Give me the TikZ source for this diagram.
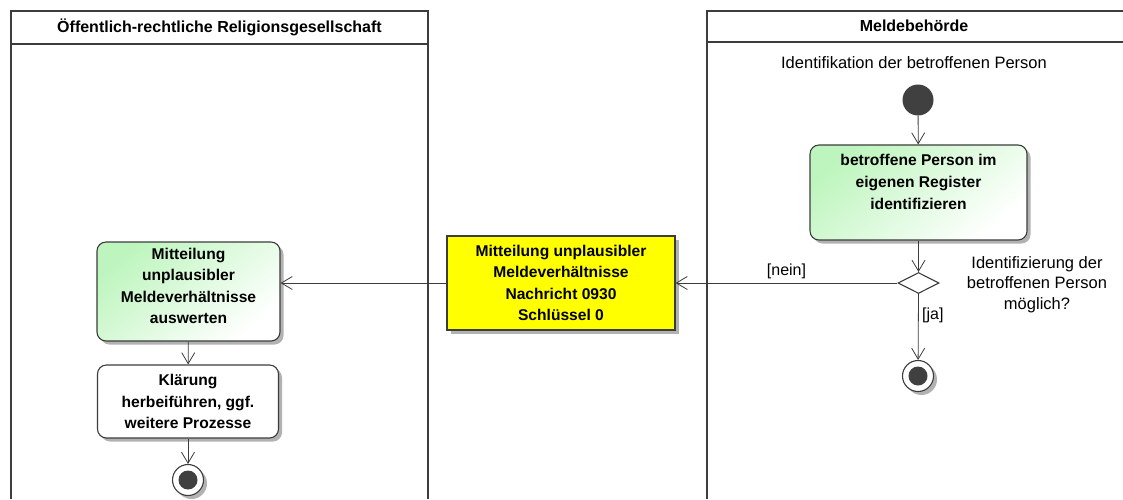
\documentclass[tikz,border=0pt]{standalone}
\usepackage{fontspec}
\setmainfont{Liberation Sans}
\usetikzlibrary{arrows.meta,shapes.geometric,shadows}
\definecolor{lanegray}{RGB}{60,60,60}
\definecolor{dotgray}{RGB}{64,64,64}
\definecolor{actgreen}{RGB}{190,245,190}
\definecolor{msgyellow}{RGB}{255,255,0}
\begin{document}
\begin{tikzpicture}[
		x=1pt, y=-1pt,
		>={Straight Barb[length=11pt,width=13pt]},
		lane/.style={line width=2.2pt, lanegray},
		flow/.style={->, line width=0.8pt, lanegray},
		shadowed/.style={drop shadow={shadow xshift=3.5pt, shadow yshift=-3.5pt, fill=black!30, opacity=1}},
		action/.style={draw=lanegray, line width=1.1pt, rounded corners=9pt, inner sep=0pt, shadowed},
		greenact/.style={action, top color=actgreen, bottom color=white, shading angle=40},
		boxtext/.style={align=center, font=\fontsize{15.6}{21.6}\selectfont\bfseries, inner sep=0pt},
		message/.style={draw=lanegray, line width=1.1pt, fill=msgyellow, boxtext, shadowed},
		lanetitle/.style={font=\fontsize{16}{18}\selectfont\bfseries},
		plain/.style={font=\fontsize{16.5}{20.5}\selectfont, align=center},
		guard/.style={font=\fontsize{16}{18}\selectfont, text=black},
		startdot/.style={circle, fill=dotgray, minimum size=31pt, inner sep=0pt},
		enddot/.style={circle, draw=lanegray, line width=1.1pt, fill=white, minimum size=31pt, inner sep=0pt, shadowed},
		decision/.style={diamond, draw=lanegray, line width=1.1pt, fill=white, minimum width=41pt,
			minimum height=21pt, inner sep=0pt, aspect=2},
	]
	\useasboundingbox (0,0) rectangle (1123,499);

	% ---------- lane: Religionsgesellschaft ----------
	\draw[lane] (11,499) -- (11,11) -- (428,11) -- (428,499);
	\draw[lane] (11,44) -- (428,44);
	\node[lanetitle] (titleL) at (219.5,27.5) {Öffentlich-rechtliche Religionsgesellschaft};

	% ---------- lane: Meldebehoerde ----------
	\draw[lane] (707,499) -- (707,11) -- (1124,11);
	\draw[lane] (707,42) -- (1124,42);
	\node[lanetitle] (titleR) at (914,26) {Meldebehörde};

	% ---------- Meldebehoerde ----------
	\node[plain] (ident) at (914,63) {Identifikation der betroffenen Person};
	\node[startdot] (start) at (918,100) {};
	\node[greenact, minimum width=217pt, minimum height=95pt] (register) at (918.5,192.5) {};
	\node[boxtext] (registertext) at (918.5,182)
		{betroffene Person im\\eigenen Register\\identifizieren};
	\node[decision] (dec) at (918.5,283) {};
	\node[plain] (question) at (1037,284.5)
		{Identifizierung der\\betroffenen Person\\möglich?};
	\node[enddot] (endR) at (918,376) {};
	\fill[dotgray] (endR) circle (9.5pt);

	% ---------- Nachricht ----------
	\node[message, minimum width=228pt, minimum height=94pt] (msg) at (561,283)
		{Mitteilung unplausibler\\Meldeverhältnisse\\Nachricht 0930\\Schlüssel 0};

	% ---------- Religionsgesellschaft ----------
	\node[greenact, minimum width=183pt, minimum height=99pt] (eval) at (188.5,291.5) {};
	\node[boxtext] (evaltext) at (188.5,286)
		{Mitteilung\\unplausibler\\Meldeverhältnisse\\auswerten};
	\node[action, fill=white, minimum width=181pt, minimum height=73pt] (klaer) at (188,401.5) {};
	\node[boxtext] (klaertext) at (188,401.5)
		{Klärung\\herbeiführen, ggf.\\weitere Prozesse};
	\node[enddot] (endL) at (188,480) {};
	\fill[dotgray] (endL) circle (9.5pt);

	% ---------- flows ----------
	\draw[flow] (start) -- (register);
	\draw[flow] (register) -- (dec.north);
	\draw[flow] (dec.west) -- node[guard, above, pos=0.5] {[nein]} (msg.east);
	\draw[flow] (dec.south) -- node[guard, right, pos=0.32] {[ja]} (endR);
	\draw[flow] (msg.west) -- (eval.east |- msg.west);
	\draw[flow] (eval) -- (klaer);
	\draw[flow] (klaer) -- (endL);

\end{tikzpicture}
\end{document}
